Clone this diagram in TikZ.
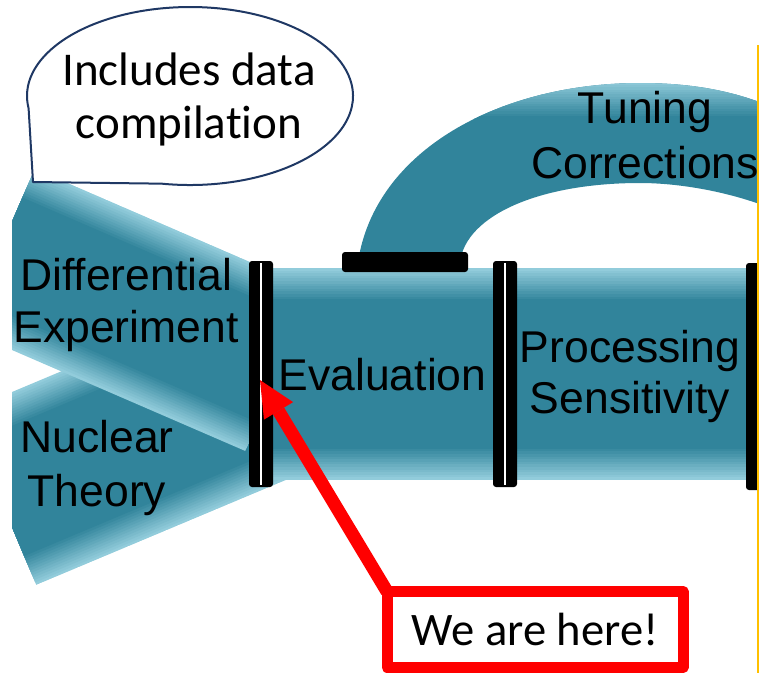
\documentclass[tikz,border=0pt]{standalone}
\usepackage{fontspec}
\setmainfont{Liberation Sans}[Ligatures=NoCommon]
\newfontfamily\calibrifont{Carlito}[Ligatures=NoCommon]
\usetikzlibrary{arrows.meta}
\definecolor{tealdark}{HTML}{31849B}
\definecolor{teallight}{HTML}{92CCDB}
\definecolor{navyline}{HTML}{1F3864}
\definecolor{slideyellow}{HTML}{FFC000}
\newcommand\bandstroke[3]{%
  \foreach \i in {0,...,12}{%
    \pgfmathsetlengthmacro\bw{#3pt-2*\i*2.6pt}%
    \pgfmathsetmacro\bp{100*\i/12}%
    \draw[line width=\bw, color=tealdark!\bp!teallight] #1 -- #2;%
  }}
\begin{document}
\begin{tikzpicture}[x=1pt,y=-1pt,
  lbl/.style={font=\fontsize{44.5}{53}\selectfont, align=center, inner sep=0pt, anchor=base, text=black},
  calloutlbl/.style={font=\calibrifont\fontsize{47}{53}\selectfont, align=center, inner sep=0pt, anchor=base, text=black},
  barbox/.style={fill=black, rounded corners=3pt},
  gapline/.style={white, line width=1.6pt},
]
\useasboundingbox (0,0) rectangle (759,673);
\clip (0,0) rectangle (759,673);

% lower band (Nuclear Theory)
\begin{scope}
  \clip (12,392) -- (300,271) -- (300,474) -- (12,595) -- cycle;
  \bandstroke{(0,498.5)}{(310,368.3)}{187.2}
\end{scope}
% upper band (Differential Experiment)
\begin{scope}
  \clip (12,159) -- (262,267.2) -- (262,458.2) -- (12,350) -- cycle;
  \bandstroke{(0,249.3)}{(280,370.5)}{175.3}
\end{scope}
% main pipe
\begin{scope}
  \clip (262,268) rectangle (770,480);
  \bandstroke{(262,374)}{(770,374)}{212}
\end{scope}
% arch (Tuning Corrections)
\begin{scope}
  \clip (358,262) .. controls (375,150) and (500,83) .. (640,83)
        .. controls (690,83) and (730,90) .. (770,106) -- (770,208)
        .. controls (730,192) and (680,183) .. (640,183)
        .. controls (540,183) and (466,215) .. (460,262) -- cycle;
  \fill[tealdark] (340,70) rectangle (770,270);
  \foreach \i in {0,...,15}{%
    \pgfmathsetmacro\ap{100*\i/15}%
    \fill[tealdark!\ap!teallight] (340,80+2.4*\i) rectangle (770,82.6+2.4*\i);
  }
\end{scope}

% bars
\fill[barbox] (249,261) rectangle (273,487);
\draw[gapline] (261,263) -- (261,485);
\fill[barbox] (493,261) rectangle (517,487);
\draw[gapline] (505,263) -- (505,485);
\fill[barbox] (746,263) rectangle (772,490);
\fill[barbox] (342,252) rectangle (468,272);

% labels (anchor base = baseline of the last line)
\node[lbl, font=\fontsize{44.5}{52}\selectfont] (diff) at (126,342) {Differential\\Experiment};
\node[lbl, font=\fontsize{44.5}{54}\selectfont] (nucl) at (97,506) {Nuclear\\Theory};
\node[lbl] (eval) at (382.5,390) {Evaluation};
\node[lbl, font=\fontsize{44.5}{51}\selectfont] (proc) at (630,413) {Processing\\Sensitivity};
\node[lbl, font=\fontsize{44.5}{55}\selectfont] (tune) at (645,178) {Tuning\\Corrections};

% callout
\draw[navyline, line width=2pt, fill=white, line join=round]
  (33,182) -- (28.6,108.4) arc[start angle=172, end angle=460, x radius=163, y radius=89] -- cycle;
\node[calloutlbl] (note) at (189,138) {Includes data\\compilation};

% We are here
\node[draw=red, line width=11pt, line join=round, fill=white, minimum width=296pt, minimum height=76pt,
      inner sep=0pt, outer sep=0pt, font=\calibrifont\fontsize{46.6}{56}\selectfont] (here) at (535,629.5) {We are here!};
\coordinate (tip) at (260,380);
\draw[red, line width=13pt, -{Triangle[length=36pt, width=34pt, line width=0pt]}] (here.north west) -- (tip);

% slide edge
\draw[slideyellow, line width=2pt] (757.5,45) -- (757.5,673);
\end{tikzpicture}
\end{document}
